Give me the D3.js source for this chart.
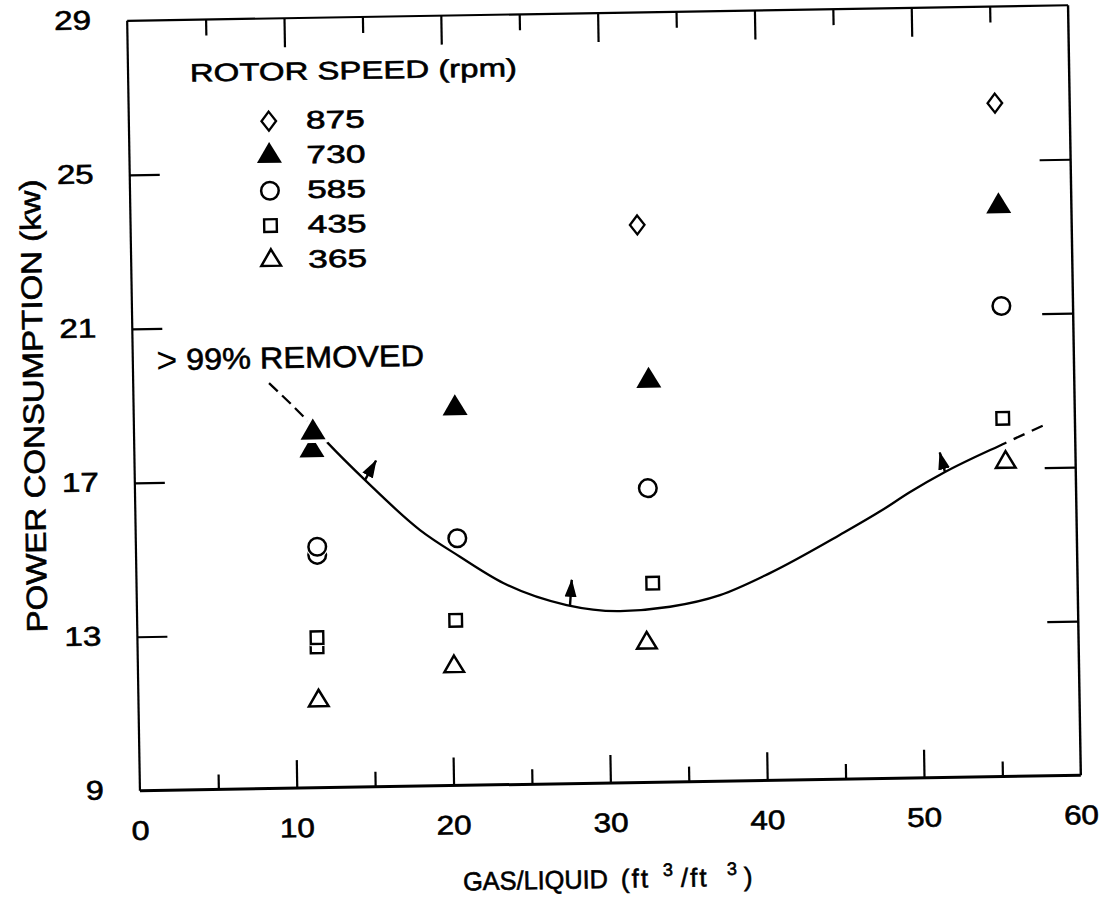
<!DOCTYPE html>
<html>
<head>
<meta charset="utf-8">
<script src="https://cdn.jsdelivr.net/npm/d3@7"></script>
<style>
  html, body { margin: 0; padding: 0; background: #fff; }
  svg { display: block; }
  svg text { fill: #000; stroke: #000; stroke-width: 0.6px; }
  svg text.thin { stroke-width: 0; }
</style>
</head>
<body>
<svg id="chart" width="1108" height="900"></svg>
<script>
// ---------------- data ----------------
const rpmLabels = ["875", "730", "585", "435", "365"];

const rpm875X = [32.30, 55.23];
const rpm875Y = [23.48, 26.49];

const rpm730X = [11.32, 11.41, 20.49, 32.87, 55.36];
const rpm730Y = [17.77, 18.23, 18.80, 19.43, 23.81];

const rpm585X = [11.55, 11.56, 20.50, 32.70, 55.43];
const rpm585Y = [15.05, 15.26, 15.42, 16.64, 21.22];

const rpm435X = [11.44, 11.45, 20.31, 32.91, 55.40];
const rpm435Y = [12.66, 12.90, 13.29, 14.17, 18.30];

const rpm365X = [11.49, 20.16, 32.47, 55.54];
const rpm365Y = [11.26, 12.09, 12.62, 17.16];

// ">99% removed" boundary curve
const curveX = [8.66, 11.02, 12.37, 14.78, 18.13, 20.65, 23.38, 27.40, 30.80, 33.99, 37.19, 40.39, 44.88, 47.54, 49.39, 51.66, 55.55, 58.16];
const curveY = [19.53, 18.56, 17.94, 16.93, 15.65, 14.94, 14.24, 13.64, 13.46, 13.55, 13.83, 14.38, 15.34, 15.95, 16.42, 16.93, 17.66, 18.13];
const curveSolidFrom = 11.4;
const curveSolidTo = 55.6;

// small arrows pointing into the >99% region
const arrowFromX = [14.67, 27.61, 51.66];
const arrowFromY = [16.97, 13.61, 16.93];
const arrowToX   = [15.40, 27.75, 51.35];
const arrowToY   = [17.47, 14.29, 17.44];

// axes
const xLabelTicks = [0, 10, 20, 30, 40, 50, 60];
const xMajorTicks = [10, 20, 30, 40, 50];
const xMinorTicks = [5, 15, 25, 35, 45, 55];
const yLabelTicks = [9, 13, 17, 21, 25, 29];
const yTicks = [13, 17, 21, 25];

const xTitle = "GAS/LIQUID";
const yTitle = "POWER CONSUMPTION (kw)";
const legendTitle = "ROTOR SPEED (rpm)";
const annotation = "99% REMOVED";

// ---------------- drawing ----------------
const FONT = "'Liberation Sans', Arial, Helvetica, sans-serif";
const svg = d3.select("#chart");
svg.append("rect").attr("width", 1108).attr("height", 900).attr("fill", "#fff");

const x = d3.scaleLinear().domain([0, 60]).range([133.5, 1074.5]);
const y = d3.scaleLinear().domain([9, 29]).range([783, 13]);

// the scanned figure is slightly rotated
const g = svg.append("g").attr("transform", "rotate(-0.95,604,398)");

// frame
const frame = g.append("g").attr("stroke", "#000").attr("fill", "none");
frame.append("line").attr("x1", x(0)).attr("x2", x(60)).attr("y1", y(29)).attr("y2", y(29)).attr("stroke-width", 2.2);
frame.append("line").attr("x1", x(0)).attr("x2", x(60)).attr("y1", y(9)).attr("y2", y(9)).attr("stroke-width", 3);
frame.append("line").attr("x1", x(0)).attr("x2", x(0)).attr("y1", y(29)).attr("y2", y(9)).attr("stroke-width", 2.2);
frame.append("line").attr("x1", x(60)).attr("x2", x(60)).attr("y1", y(29)).attr("y2", y(9)).attr("stroke-width", 2.4);

function styleAxis(sel) {
  sel.select(".domain").remove();
  sel.selectAll(".tick line").attr("stroke", "#000").attr("stroke-width", 2.2);
  sel.selectAll(".tick text").remove();
}
g.append("g").attr("transform", `translate(0,${y(9)})`)
  .call(d3.axisBottom(x).tickValues(xMajorTicks).tickSize(-28).tickFormat("")).call(styleAxis);
g.append("g").attr("transform", `translate(0,${y(9)})`)
  .call(d3.axisBottom(x).tickValues(xMinorTicks).tickSize(-15).tickFormat("")).call(styleAxis);
g.append("g").attr("transform", `translate(0,${y(29)})`)
  .call(d3.axisTop(x).tickValues(xMajorTicks).tickSize(-29).tickFormat("")).call(styleAxis);
g.append("g").attr("transform", `translate(0,${y(29)})`)
  .call(d3.axisTop(x).tickValues(xMinorTicks).tickSize(-16).tickFormat("")).call(styleAxis);
g.append("g").attr("transform", `translate(${x(0)},0)`)
  .call(d3.axisLeft(y).tickValues(yTicks).tickSize(-30).tickFormat("")).call(styleAxis);
g.append("g").attr("transform", `translate(${x(60)},0)`)
  .call(d3.axisRight(y).tickValues(yTicks).tickSize(-31).tickFormat("")).call(styleAxis);

// tick labels
g.append("g").selectAll("text").data(xLabelTicks).join("text")
  .attr("x", d => x(d)).attr("y", y(9) + 49)
  .attr("text-anchor", "middle")
  .attr("font-family", FONT).attr("font-size", 27)
  .attr("textLength", d => d >= 10 ? 35 : 18).attr("lengthAdjust", "spacingAndGlyphs")
  .text(d => d);
g.append("g").selectAll("text").data(yLabelTicks).join("text")
  .attr("x", x(0) - 36).attr("y", d => y(d) + 8)
  .attr("text-anchor", "end")
  .attr("font-family", FONT).attr("font-size", 27)
  .attr("textLength", d => d >= 10 ? 37 : 18).attr("lengthAdjust", "spacingAndGlyphs")
  .text(d => d);

// axis titles
g.append("text")
  .attr("transform", "translate(43.5,396.5) rotate(-90)")
  .attr("text-anchor", "middle")
  .attr("font-family", FONT).attr("font-size", 29)
  .attr("textLength", 453).attr("lengthAdjust", "spacingAndGlyphs")
  .text(yTitle);

const xt = g.append("g").attr("font-family", FONT);
xt.append("text").attr("x", 455).attr("y", 888).attr("font-size", 26)
  .attr("textLength", 145).attr("lengthAdjust", "spacingAndGlyphs").text(xTitle);
xt.append("text").attr("x", 613).attr("y", 888).attr("font-size", 26).attr("letter-spacing", 2).text("(ft");
xt.append("text").attr("x", 655).attr("y", 877).attr("font-size", 18).text("3");
xt.append("text").attr("x", 673).attr("y", 888).attr("font-size", 26).attr("letter-spacing", 2).text("/ft");
xt.append("text").attr("x", 719).attr("y", 877).attr("font-size", 18).text("3");
xt.append("text").attr("x", 736).attr("y", 888).attr("font-size", 26).text(")");

// boundary curve (dashed where extrapolated)
const curvePts = curveX.map((v, i) => [x(v), y(curveY[i])]);
const line = d3.line().curve(d3.curveMonotoneX);
const cpath = g.append("path").attr("d", line(curvePts))
  .attr("fill", "none").attr("stroke", "#000").attr("stroke-width", 2.3);
const node = cpath.node();
const L = node.getTotalLength();
function lenAtX(px) {
  let lo = 0, hi = L;
  for (let i = 0; i < 40; i++) {
    const mid = (lo + hi) / 2;
    if (node.getPointAtLength(mid).x < px) lo = mid; else hi = mid;
  }
  return lo;
}
const L1 = lenAtX(x(curveSolidFrom)), L2 = lenAtX(x(curveSolidTo));
const dash = 12, gap = 6, arr = [];
let p = 0;
while (p < L1 - 0.01) {
  const d = Math.min(dash, L1 - p); p += d;
  const gg = Math.min(gap, Math.max(0, L1 - p)); p += gg;
  arr.push(d, gg);
}
arr.push(L2 - L1);
p = L2;
while (p < L - 0.01) {
  const gg = Math.min(gap + 2, L - p); p += gg;
  const d = Math.min(dash, Math.max(0, L - p)); p += d;
  arr.push(gg, d);
}
arr.push(2000);
cpath.attr("stroke-dasharray", arr.join(","));

// arrows
const defs = svg.append("defs");
defs.append("marker").attr("id", "ah")
  .attr("viewBox", "0 0 18 13").attr("refX", 17).attr("refY", 6.5)
  .attr("markerWidth", 18).attr("markerHeight", 13)
  .attr("markerUnits", "userSpaceOnUse").attr("orient", "auto")
  .append("path").attr("d", "M0,0.5 L18,6.5 L0,12.5 Z").attr("fill", "#000");
g.append("g").selectAll("line").data(arrowFromX).join("line")
  .attr("x1", (d, i) => x(d)).attr("y1", (d, i) => y(arrowFromY[i]))
  .attr("x2", (d, i) => x(arrowToX[i])).attr("y2", (d, i) => y(arrowToY[i]))
  .attr("stroke", "#000").attr("stroke-width", 2.4).attr("marker-end", "url(#ah)");

// markers
const shapes = {
  "875": { d: "M0,-9.5 L7.3,0 L0,9.5 L-7.3,0 Z", fill: "#fff", sw: 2.3 },
  "730": { d: "M0,-14 L12.5,7 L-12.5,7 Z", fill: "#000", sw: 0 },
  "585": { d: d3.arc()({ innerRadius: 0, outerRadius: 8.8, startAngle: 0, endAngle: 2 * Math.PI }), fill: "#fff", sw: 2.5 },
  "435": { d: "M-6.3,-6.3 H6.3 V6.3 H-6.3 Z", fill: "#fff", sw: 2.4 },
  "365": { d: "M0,-11 L9.8,5.5 L-9.8,5.5 Z", fill: "#fff", sw: 2.5 }
};
function drawMarker(sel, key) {
  const s = shapes[key];
  sel.append("path").attr("d", s.d).attr("fill", "#fff").attr("stroke", "#fff")
    .attr("stroke-width", s.sw + (key === "730" ? 7 : 2)).attr("stroke-linejoin", "round");
  sel.append("path").attr("d", s.d).attr("fill", s.fill)
    .attr("stroke", "#000").attr("stroke-width", s.sw)
    .attr("stroke-linejoin", "miter");
}
const seriesX = { "875": rpm875X, "730": rpm730X, "585": rpm585X, "435": rpm435X, "365": rpm365X };
const seriesY = { "875": rpm875Y, "730": rpm730Y, "585": rpm585Y, "435": rpm435Y, "365": rpm365Y };
const pts = g.append("g");
rpmLabels.slice().reverse().forEach(key => {
  const xs = seriesX[key], ys = seriesY[key];
  const data = xs.map((v, i) => ({ x: v, y: ys[i] })).sort((a, b) => a.y - b.y);
  data.forEach(dv => {
    const m = pts.append("g").attr("transform", `translate(${x(dv.x)},${y(dv.y)})`);
    drawMarker(m, key);
  });
});

// legend
g.append("text").attr("x", 195.4).attr("y", 74.8)
  .attr("font-family", FONT).attr("font-size", 25)
  .attr("textLength", 327).attr("lengthAdjust", "spacingAndGlyphs")
  .text(legendTitle);
const legBase = [123.6, 158.4, 193.2, 228, 262.8];
rpmLabels.forEach((key, i) => {
  const m = g.append("g").attr("transform", `translate(273.4,${legBase[i] - 8})`);
  drawMarker(m, key);
  g.append("text").attr("x", 310.5).attr("y", legBase[i])
    .attr("font-family", FONT).attr("font-size", 25)
    .attr("textLength", 59).attr("lengthAdjust", "spacingAndGlyphs")
    .text(key);
});

// annotation
g.append("text").attr("class", "thin").attr("x", 157).attr("y", 365)
  .attr("font-family", FONT).attr("font-size", 36)
  .text(">");
g.append("text").attr("x", 186.7).attr("y", 362.8)
  .attr("font-family", FONT).attr("font-size", 30)
  .attr("textLength", 238).attr("lengthAdjust", "spacingAndGlyphs")
  .text(annotation);
</script>
</body>
</html>
